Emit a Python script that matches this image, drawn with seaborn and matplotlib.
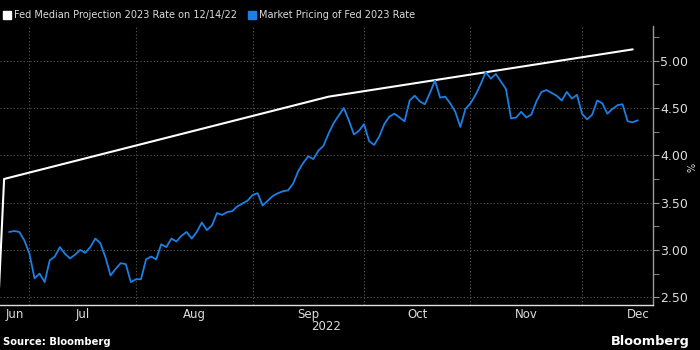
import pandas as pd
import numpy as np
import seaborn as sns
import matplotlib.pyplot as plt
from matplotlib.lines import Line2D

"""
1. Data read off the chart (x axis counts business days, like the terminal)
"""
axis_start = "2022-06-23"

market_start = "2022-06-27"
market_rate = [
    3.19, 3.20, 3.19, 3.10, 2.96, 2.70, 2.75, 2.66, 2.89, 2.93,
    3.03, 2.96, 2.91, 2.95, 3.00, 2.97, 3.03, 3.12, 3.07, 2.92,
    2.73, 2.80, 2.86, 2.85, 2.66, 2.69, 2.69, 2.90, 2.93, 2.90,
    3.06, 3.03, 3.12, 3.09, 3.15, 3.19, 3.12, 3.19, 3.29, 3.21,
    3.26, 3.39, 3.37, 3.40, 3.41, 3.46, 3.49, 3.52, 3.58, 3.60,
    3.47, 3.52, 3.57, 3.60, 3.62, 3.63, 3.70, 3.83, 3.92, 3.99,
    3.96, 4.05, 4.10, 4.23, 4.34, 4.42, 4.50, 4.37, 4.22, 4.26,
    4.33, 4.15, 4.11, 4.20, 4.33, 4.41, 4.44, 4.40, 4.36, 4.58,
    4.63, 4.57, 4.54, 4.66, 4.79, 4.61, 4.62, 4.55, 4.46, 4.30,
    4.49, 4.55, 4.64, 4.75, 4.88, 4.81, 4.86, 4.78, 4.70, 4.39,
    4.40, 4.46, 4.40, 4.43, 4.57, 4.67, 4.69, 4.66, 4.63, 4.58,
    4.67, 4.60, 4.64, 4.44, 4.38, 4.43, 4.58, 4.55, 4.44, 4.49,
    4.53, 4.54, 4.36, 4.35, 4.37]

fed_dates = ["2022-06-23", "2022-06-24", "2022-09-22", "2022-12-15"]
fed_rate = [2.60, 3.75, 4.62, 5.12]

month_labels = ["Jun", "Jul", "Aug", "Sep", "Oct", "Nov", "Dec"]
month_starts = ["2022-06-01", "2022-07-01", "2022-08-01", "2022-09-01",
                "2022-10-03", "2022-11-01", "2022-12-01", "2023-01-02"]
y_ticks = [2.50, 3.00, 3.50, 4.00, 4.50, 5.00]

legend_labels = ["Fed Median Projection 2023 Rate on 12/14/22",
                 "Market Pricing of Fed 2023 Rate"]

"""
2. Build frames on a business-day index
"""


def bday_pos(dates):
    return np.busday_count(axis_start, list(dates)).astype(float)


market_df = pd.DataFrame({
    "pos": bday_pos(pd.bdate_range(market_start, periods=len(market_rate))
                    .strftime("%Y-%m-%d")),
    "rate": market_rate})
fed_df = pd.DataFrame({"pos": bday_pos(fed_dates), "rate": fed_rate})

month_pos = bday_pos(month_starts)
x_left, x_right = 0.19, 129.0

"""
3. Plot
"""
sns.set_style("dark", {"axes.facecolor": "black", "figure.facecolor": "black"})
plt.rcParams["font.family"] = ["DejaVu Sans"]

fig = plt.figure(figsize=(7, 3.5), dpi=100)
ax = fig.add_axes([0.0, 1 - 305 / 350, 653 / 700, (305 - 26) / 350])

sns.lineplot(data=fed_df, x="pos", y="rate", ax=ax, color="white",
             linewidth=1.5)
sns.lineplot(data=market_df, x="pos", y="rate", ax=ax, color="#1b7fe3",
             linewidth=1.3)

# y axis on the right
ax.yaxis.tick_right()
ax.set_yticks(y_ticks)
ax.set_yticklabels([f"{v:.2f}" for v in y_ticks])
ax.set_yticks([v + 0.25 for v in y_ticks], minor=True)
ax.tick_params(axis="y", which="both", direction="out", length=4,
               color="#9a9a9a", labelcolor="#dcdcdc", labelsize=9, pad=1)

# x axis: ticks at month starts, labels centred in each month
ax.set_xticks(month_pos)
ax.set_xticklabels([])
centres = []
for a, b in zip(month_pos[:-1], month_pos[1:]):
    a = max(a, x_left)
    centres.append((a + b) / 2)
ax.set_xticks(centres, minor=True)
ax.set_xticklabels(month_labels, minor=True)
ax.tick_params(axis="x", which="major", direction="out", length=3,
               color="#dddddd")
ax.tick_params(axis="x", which="minor", length=0, labelcolor="#dcdcdc",
               labelsize=8.5, pad=2)

# limits last, set_xticks would widen them
ax.set_xlim(x_left, x_right)
ax.set_ylim(2.418, 5.367)

ax.text(0.5, -0.053, "2022", transform=ax.transAxes,
        ha="center", va="top", color="#dcdcdc", fontsize=8.5)

ax.grid(which="major", axis="both", color="#5a5a5a", linestyle=(0, (1, 2)),
        linewidth=0.8)
ax.set_xlabel("")
ax.set_ylabel("")

for side in ["top", "left"]:
    ax.spines[side].set_visible(False)
ax.spines["right"].set_color("#9a9a9a")
ax.spines["bottom"].set_color("#e0e0e0")
ax.spines["right"].set_linewidth(1.0)
ax.spines["bottom"].set_linewidth(1.0)

# legend along the top
handles = [Line2D([], [], marker="s", linestyle="", color="white",
                  markersize=5.5),
           Line2D([], [], marker="s", linestyle="", color="#1b7fe3",
                  markersize=5.5)]
fig.legend(handles, legend_labels, loc="center left",
           bbox_to_anchor=(-0.004, 1 - 15 / 350), ncol=2, frameon=False,
           handletextpad=0.1, columnspacing=1.0, handlelength=1.2,
           fontsize=7, labelcolor="#dcdcdc", borderaxespad=0)

fig.text(693 / 700, 1 - 167 / 350, "%", rotation=90, color="#dcdcdc",
         fontsize=7, ha="center", va="center")
fig.text(3 / 700, 1 - 342 / 350, "Source: Bloomberg", color="white",
         fontsize=7.2, fontweight="bold", ha="left", va="center")
fig.text(690 / 700, 1 - 341 / 350, "Bloomberg", color="white",
         fontsize=9.3, fontweight="bold", ha="right", va="center")

fig.savefig("out.png", dpi=100, facecolor="black")
